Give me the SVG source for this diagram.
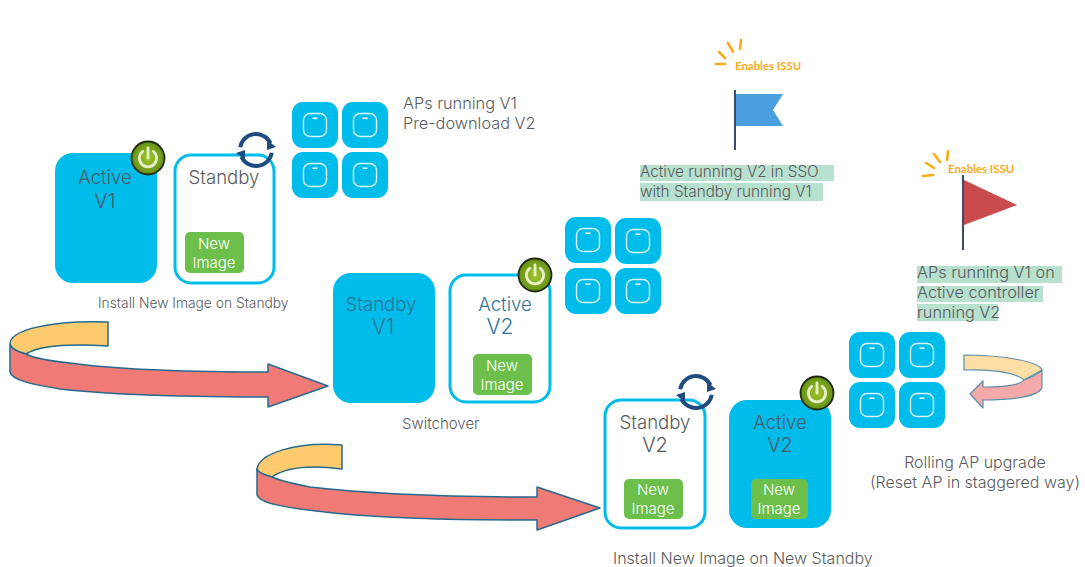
<svg xmlns="http://www.w3.org/2000/svg" width="1085" height="567" viewBox="0 0 1085 567">
<style>
text{font-family:"Inter","Liberation Sans",sans-serif;font-weight:300;fill:#5a5b5e}
.m{text-anchor:middle}
.solid{fill:#00bceb}
.outline{fill:#fff;stroke:#00bceb;stroke-width:3}
.green{fill:#6cbf4b}
.img{font-size:15px;fill:#fff;text-anchor:middle}
.dark{fill:#4b5a66}
.teal{fill:#2b7396}
.hl{fill:#b7e0cf}
.tx{font-size:15.3px}
.tx2{font-size:16.3px}
.cap{font-size:13.8px}
.cap2{font-size:15px}
.cap3{font-size:16px}
.box{font-size:18.6px}
.ver{font-size:20px}
.big{font-size:21px}
.issu{font-size:11.4px;font-weight:700;fill:#fbab18;font-family:"Lato","Liberation Sans",sans-serif}
.spark{stroke:#fbab18;stroke-width:2.6;stroke-linecap:round;fill:none}
.pole{stroke:#3d4a66;stroke-width:2}
.arrowline{stroke:#256a8f;stroke-width:1.5;stroke-linejoin:round}
.arrowthin{stroke:#5c8ea8;stroke-width:1.2;stroke-linejoin:round}
</style>
<defs>
<radialGradient id="pg" cx="50%" cy="50%" r="55%"><stop offset="0" stop-color="#a2c82c"/><stop offset="1" stop-color="#5d8a14"/></radialGradient>
<g id="power">
<circle r="16.5" fill="url(#pg)" stroke="#1f2a12" stroke-width="1.8"/>
<path d="M-5.2,-6.6A8.6,8.6 0 1 0 5.2,-6.6" fill="none" stroke="#e6efc8" stroke-width="2.8" stroke-linecap="round"/>
<path d="M0,-10V0" stroke="#e6efc8" stroke-width="2.8" stroke-linecap="round"/>
</g>
<g id="sync">
<path d="M-15.76,-2.78A16,16 0 0 1 14.5,-6.8" fill="none" stroke="#1f4b7e" stroke-width="4"/>
<path d="M15.76,2.78A16,16 0 0 1 -14.5,6.8" fill="none" stroke="#1f4b7e" stroke-width="4"/>
<polygon points="11,-10 20,-3 11,0" fill="#1f4b7e"/>
<polygon points="-11,10 -20,3 -11,0" fill="#1f4b7e"/>
</g>
<g id="ap">
<rect width="46" height="46" rx="11" fill="#00bceb"/>
<rect x="11.5" y="11.5" width="23" height="23" rx="6.5" fill="none" stroke="#d9f4fb" stroke-width="1.4"/>
<rect x="20.5" y="15.5" width="5" height="1.4" fill="#fff"/>
</g>
</defs>

<g id="connectors">
<g id="arrow-1">
<path class="arrowline" fill="#fdcb6e" d="M108,322V346C75,344 40,345 26,354C16,351 10,348 10,343C12,330 50,320 108,322Z"/>
<path class="arrowline" fill="#f07b76" d="M10,345V372C12,380 30,384 60,389C120,396 200,397 268,397V407L328,386L268,364V372C190,372 120,370 70,363C50,361 35,359 26,354C18,352 12,349 10,345Z"/>
</g>
<g id="arrow-2">
<path class="arrowline" fill="#fdcb6e" d="M342,445V469C310,465 285,468 272,477C263,475 257,472 257,469C259,454 295,441 342,445Z"/>
<path class="arrowline" fill="#f07b76" d="M257,469V495C260,503 280,506 300,509C370,519 460,520 537,520V530L600,508L537,487V497C460,497 370,494 310,487C295,484 280,481 272,477C264,475 258,472 257,469Z"/>
</g>
<g id="arrow-3">
<path class="arrowthin" fill="#fddea5" d="M964,355V370C990,369 1015,372 1024,380L1042,370C1040,362 1005,355 964,355Z"/>
<path class="arrowthin" fill="#f4aaaa" d="M1042,370V387C1040,396 1015,400 983,400V408L970,394L983,381V387C1005,387 1020,385 1024,380C1033,376 1040,374 1042,370Z"/>
</g>
</g>

<g id="ap-group-1">
<use href="#ap" x="292" y="102"/><use href="#ap" x="342" y="102"/><use href="#ap" x="292" y="152"/><use href="#ap" x="342" y="152"/>
</g>
<g id="ap-label-1"><text class="tx2" x="403" y="109">APs running V1</text><text class="tx2" x="403" y="129">Pre-download V2</text></g>

<g id="active-v1">
<rect class="solid" x="55" y="153" width="102" height="130" rx="18"/>
<text class="box m dark" x="105" y="184">Active</text>
<text class="ver m dark" x="105" y="208">V1</text>
<use href="#power" x="148" y="158"/>
</g>
<g id="standby-1">
<rect class="outline" x="175" y="155" width="99" height="128" rx="16"/>
<text class="box m" x="224" y="184">Standby</text>
<rect class="green" x="185" y="232" width="59" height="41" rx="5"/>
<text class="img" x="214" y="249">New</text><text class="img" x="214" y="268">Image</text>
<use href="#sync" x="256" y="150"/>
</g>
<text id="caption-1" class="cap" x="98" y="308">Install New Image on Standby</text>

<g id="standby-v1">
<rect class="solid" x="333" y="273" width="102" height="130" rx="18"/>
<text class="box m teal" x="381" y="311">Standby</text>
<text class="big m teal" x="383" y="334">V1</text>
</g>
<g id="active-v2-outline">
<rect class="outline" x="450" y="275" width="100" height="127" rx="16"/>
<text class="box m teal" x="505" y="311">Active</text>
<text class="big m teal" x="500" y="334">V2</text>
<rect class="green" x="473" y="354" width="59" height="41" rx="5"/>
<text class="img" x="502" y="371">New</text><text class="img" x="502" y="390">Image</text>
<use href="#power" x="535" y="275"/>
</g>
<g id="ap-group-2">
<use href="#ap" x="565" y="217"/><use href="#ap" x="615" y="218"/><use href="#ap" x="565" y="268"/><use href="#ap" x="615" y="268"/>
</g>
<text id="caption-2" class="cap2" x="402" y="429">Switchover</text>

<g id="standby-v2">
<rect class="outline" x="605" y="400" width="100" height="128" rx="16"/>
<text class="box m" x="655" y="429">Standby</text>
<text class="ver m" x="655" y="452">V2</text>
<rect class="green" x="624" y="479" width="59" height="40" rx="5"/>
<text class="img" x="653" y="495">New</text><text class="img" x="653" y="514">Image</text>
<use href="#sync" x="696" y="392"/>
</g>
<g id="active-v2">
<rect class="solid" x="729" y="400" width="102" height="128" rx="18"/>
<text class="box m dark" x="780" y="429">Active</text>
<text class="ver m dark" x="780" y="452">V2</text>
<rect class="green" x="751" y="479" width="57" height="40" rx="5"/>
<text class="img" x="779" y="495">New</text><text class="img" x="779" y="514">Image</text>
<use href="#power" x="817" y="393"/>
</g>
<text id="caption-3" class="cap3" x="613" y="564">Install New Image on New Standby</text>

<g id="ap-group-3">
<use href="#ap" x="849" y="332"/><use href="#ap" x="899" y="332"/><use href="#ap" x="849" y="382"/><use href="#ap" x="899" y="382"/>
</g>
<g id="rolling-label">
<text class="cap3 m" x="975" y="468">Rolling AP upgrade</text>
<text class="cap3 m" x="975" y="488">(Reset AP in staggered way)</text>
</g>

<g id="flag-blue">
<path class="spark" d="M716,64H725M719,52L725,58M728,43L733,52M741,40L740,49"/>
<text class="issu" x="735" y="70">Enables ISSU</text>
<line class="pole" x1="735" y1="90" x2="735" y2="150"/>
<polygon points="736,94 783,94 773,110 783,126 736,126" fill="#4a9fe0"/>
</g>
<g id="flag-blue-label">
<rect class="hl" x="640" y="165" width="194" height="16"/>
<rect class="hl" x="640" y="183" width="183" height="18"/>
<text class="tx" x="640" y="177">Active running V2 in SSO</text>
<text class="tx" x="640" y="197">with Standby running V1</text>
</g>
<g id="flag-red">
<path class="spark" d="M923,176L933,175M926,163L934,168M934,154L940,162M948,151L947,160"/>
<text class="issu" x="948" y="173">Enables ISSU</text>
<line class="pole" x1="963" y1="175" x2="963" y2="250"/>
<polygon points="964,180 1017,205 964,225" fill="#c94b4b"/>
</g>
<g id="flag-red-label">
<rect class="hl" x="917" y="266" width="145" height="17"/>
<rect class="hl" x="917" y="286" width="126" height="16"/>
<rect class="hl" x="917" y="304" width="81" height="17"/>
<text class="tx2" x="917" y="278">APs running V1 on</text>
<text class="tx2" x="917" y="298">Active controller</text>
<text class="tx2" x="917" y="318">running V2</text>
</g>
</svg>
